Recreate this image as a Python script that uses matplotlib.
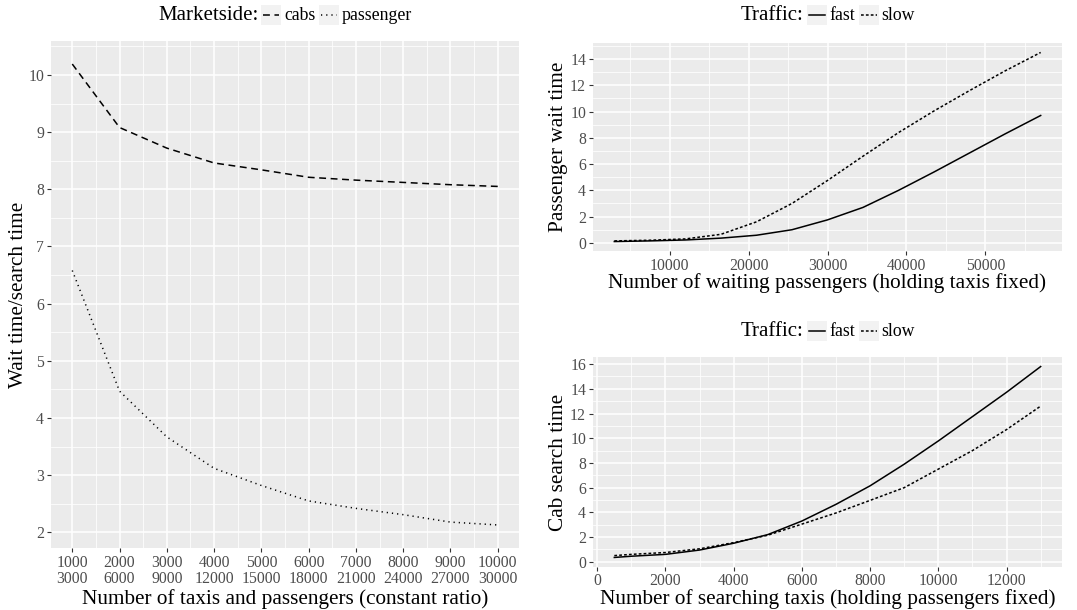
import matplotlib
matplotlib.use("Agg")
import matplotlib.pyplot as plt
from matplotlib.lines import Line2D
from matplotlib.patches import Rectangle
from matplotlib.ticker import MultipleLocator, AutoMinorLocator

plt.rcParams['font.family'] = ['Liberation Serif', 'DejaVu Serif']

# --- market size experiment (taxis and passengers grow together)
fleet_sizes = [1000, 2000, 3000, 4000, 5000, 6000, 7000, 8000, 9000, 10000]
passenger_counts = [3000, 6000, 9000, 12000, 15000, 18000, 21000, 24000, 27000, 30000]
cab_search = [10.19, 9.08, 8.72, 8.46, 8.34, 8.21, 8.16, 8.12, 8.08, 8.05]
passenger_wait = [6.58, 4.47, 3.67, 3.12, 2.82, 2.55, 2.42, 2.31, 2.18, 2.13]

# --- more waiting passengers, taxis fixed
waiting_passengers = [3000, 7500, 12000, 16500, 21000, 25500, 30000,
                      34500, 39000, 43500, 48000, 52500, 57000]
wait_fast = [0.10, 0.15, 0.22, 0.36, 0.58, 1.00, 1.75, 2.70, 4.00, 5.40, 6.85, 8.30, 9.70]
wait_slow = [0.15, 0.20, 0.30, 0.65, 1.60, 3.00, 4.75, 6.60, 8.40, 10.05, 11.60, 13.10, 14.50]

# --- more searching taxis, passengers fixed
searching_taxis = [500, 1000, 2000, 3000, 4000, 5000, 6000, 7000,
                   8000, 9000, 10000, 11000, 12000, 13000]
search_fast = [0.35, 0.45, 0.60, 0.95, 1.50, 2.20, 3.30, 4.65, 6.15, 7.90, 9.78, 11.75, 13.72, 15.80]
search_slow = [0.50, 0.60, 0.75, 1.05, 1.55, 2.15, 3.05, 3.95, 4.97, 6.00, 7.50, 9.00, 10.70, 12.60]

W, H = 1077, 610
PANEL_BG = "#EBEBEB"
TICK_SIZE = 11.3
TITLE_SIZE = 15.3
KEY_TITLE_SIZE = 15
KEY_LABEL_SIZE = 12.8
DASHED = dict(linestyle=(0, (4.5, 3)))
DOTTED = dict(linestyle=(0, (0.8, 2.6)))
SHORT_DASH = dict(linestyle=(0, (1.8, 1.4)))
SOLID = dict(linestyle='-')

fig = plt.figure(figsize=(W / 100, H / 100), dpi=100)


def px_axes(left, top, right, bottom):
    return fig.add_axes([left / W, 1 - bottom / H, (right - left) / W, (bottom - top) / H])


def style_axes(ax, xpad=2):
    ax.set_facecolor(PANEL_BG)
    for s in ax.spines.values():
        s.set_visible(False)
    ax.grid(which='major', color='white', lw=1.1)
    ax.grid(which='minor', color='white', lw=0.55)
    ax.set_axisbelow(True)
    ax.tick_params(which='major', length=3, width=0.8, color='#333333',
                   labelcolor='#4D4D4D', labelsize=TICK_SIZE, pad=2)
    ax.tick_params(axis='x', which='major', pad=xpad)
    ax.tick_params(which='minor', length=0)
    ax.xaxis.set_minor_locator(AutoMinorLocator(2))
    ax.yaxis.set_minor_locator(AutoMinorLocator(2))


def set_labels(ax, xlabel, ylabel, xl_y, yl_x):
    ax.set_xlabel(xlabel, fontsize=TITLE_SIZE)
    ax.set_ylabel(ylabel, fontsize=TITLE_SIZE)
    ax.xaxis.label.set_va('center')
    ax.yaxis.label.set_va('center')
    ax.xaxis.set_label_coords(0.5, xl_y)
    ax.yaxis.set_label_coords(yl_x, 0.5)


def pad_limits(vals, frac=0.05):
    lo, hi = min(vals), max(vals)
    d = (hi - lo) * frac
    return lo - d, hi + d


def draw_key(cx, cy, title, labels, styles):
    r = fig.canvas.get_renderer()
    cy = H - cy
    items = []
    t = fig.text(0, cy / H, title, fontsize=KEY_TITLE_SIZE, va='center', ha='left')
    items.append(('text', t, t.get_window_extent(r).width))
    for lab, st in zip(labels, styles):
        items.append(('key', st, 20))
        tx = fig.text(0, cy / H, lab, fontsize=KEY_LABEL_SIZE, va='center', ha='left')
        items.append(('text', tx, tx.get_window_extent(r).width))
    gap = 3
    total = sum(w for _, _, w in items) + gap * (len(items) - 1)
    x = cx - total / 2
    for kind, obj, w in items:
        if kind == 'text':
            obj.set_x(x / W)
        else:
            fig.add_artist(Rectangle((x / W, (cy - 10) / H), 20 / W, 20 / H,
                                     transform=fig.transFigure, fc='#F2F2F2', ec='none'))
            fig.add_artist(Line2D([(x + 2) / W, (x + 18) / W], [cy / H, cy / H],
                                  transform=fig.transFigure, color='black', lw=1.1, **obj))
        x += w + gap


# left: wait/search time vs market size
ax1 = px_axes(51, 41, 519, 548)
style_axes(ax1)
pos = list(range(1, len(fleet_sizes) + 1))
ax1.plot(pos, cab_search, color='black', lw=1.1, **DASHED)
ax1.plot(pos, passenger_wait, color='black', lw=1.1, **DOTTED)
ax1.set_xticks(pos)
ax1.set_xticklabels([f"{a}\n{b}" for a, b in zip(fleet_sizes, passenger_counts)], linespacing=1.0)
ax1.set_xlim(pad_limits(pos))
ax1.set_ylim(pad_limits(cab_search + passenger_wait))
ax1.yaxis.set_major_locator(MultipleLocator(1))
ax1.yaxis.set_minor_locator(AutoMinorLocator(2))
set_labels(ax1, "Number of taxis and passengers (constant ratio)",
           "Wait time/search time", -0.1, -0.07)

# top right: passenger wait time
ax2 = px_axes(593, 43, 1062, 251)
style_axes(ax2)
ax2.plot(waiting_passengers, wait_fast, color='black', lw=1.1, **SOLID)
ax2.plot(waiting_passengers, wait_slow, color='black', lw=1.1, **SHORT_DASH)
ax2.set_xlim(pad_limits(waiting_passengers))
ax2.set_ylim(pad_limits(wait_fast + wait_slow))
ax2.xaxis.set_major_locator(MultipleLocator(10000))
ax2.xaxis.set_minor_locator(AutoMinorLocator(2))
ax2.yaxis.set_major_locator(MultipleLocator(2))
ax2.yaxis.set_minor_locator(AutoMinorLocator(2))
set_labels(ax2, "Number of waiting passengers (holding taxis fixed)",
           "Passenger wait time", -0.153, -0.0725)

# bottom right: cab search time
ax3 = px_axes(593, 357, 1062, 567)
style_axes(ax3, xpad=1)
ax3.plot(searching_taxis, search_fast, color='black', lw=1.1, **SOLID)
ax3.plot(searching_taxis, search_slow, color='black', lw=1.1, **SHORT_DASH)
ax3.set_xlim(pad_limits(searching_taxis))
ax3.set_ylim(pad_limits(search_fast + search_slow))
ax3.xaxis.set_major_locator(MultipleLocator(2000))
ax3.xaxis.set_minor_locator(AutoMinorLocator(2))
ax3.yaxis.set_major_locator(MultipleLocator(2))
ax3.yaxis.set_minor_locator(AutoMinorLocator(2))
set_labels(ax3, "Number of searching taxis (holding passengers fixed)",
           "Cab search time", -0.153, -0.0725)

draw_key(285, 15, "Marketside:", ["cabs", "passenger"], [DASHED, DOTTED])
draw_key(828, 15, "Traffic:", ["fast", "slow"], [SOLID, SHORT_DASH])
draw_key(828, 331, "Traffic:", ["fast", "slow"], [SOLID, SHORT_DASH])

fig.savefig("out.png", dpi=100)
